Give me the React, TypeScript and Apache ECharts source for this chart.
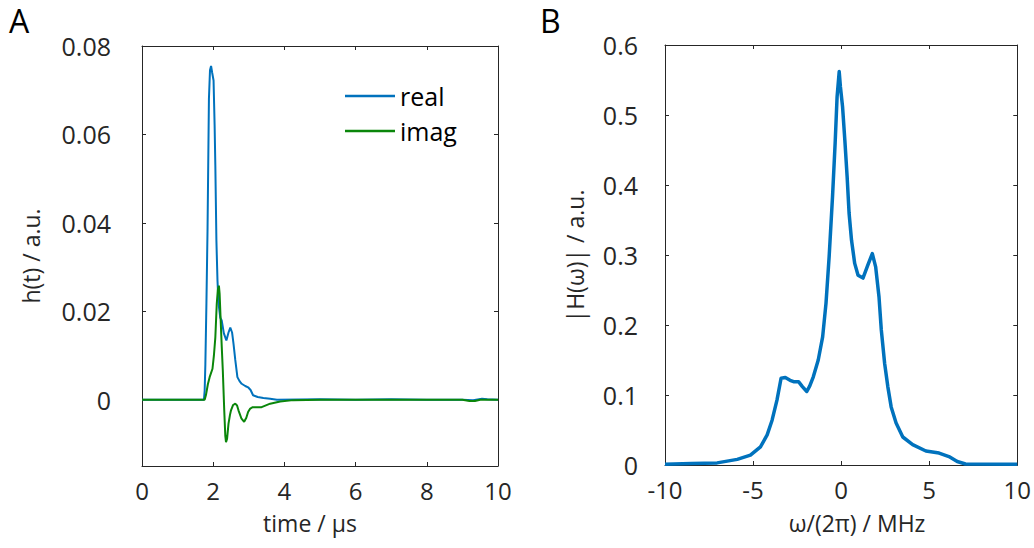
import React, { useEffect, useRef } from "react";
import * as echarts from "echarts";

// Panel A: impulse response
const timeUs = [0, 1, 1.74, 1.76, 1.78, 1.81, 1.84, 1.88, 1.91, 1.94, 1.97, 2.01, 2.04, 2.06, 2.09, 2.12, 2.15, 2.2, 2.24, 2.3, 2.37, 2.43, 2.48, 2.53, 2.57, 2.62, 2.68, 2.74, 2.8, 2.9, 2.98, 3.05, 3.12, 3.25, 3.41, 3.6, 3.79, 5, 6, 7, 8, 9, 9.3, 9.55, 9.7, 10];
const realPart = [0, 0, 0, 0.002, 0.008, 0.022, 0.038, 0.068, 0.0745, 0.0755, 0.074, 0.0722, 0.062, 0.053, 0.036, 0.027, 0.0217, 0.0185, 0.0179, 0.015, 0.0134, 0.0152, 0.0163, 0.0152, 0.0127, 0.009, 0.0051, 0.0042, 0.0036, 0.0031, 0.0028, 0.0022, 0.001, 0.0006, 0.0004, 0.0002, 0, 0.0001, 0, 0.0001, 0, 0, -0.0001, 0.0002, 0.0001, 0];

const timeImagUs = [0, 1, 1.76, 1.8, 1.85, 1.9, 1.98, 2.02, 2.06, 2.1, 2.13, 2.16, 2.18, 2.21, 2.24, 2.27, 2.31, 2.34, 2.36, 2.39, 2.43, 2.47, 2.5, 2.56, 2.62, 2.67, 2.71, 2.79, 2.87, 2.93, 2.98, 3.04, 3.11, 3.36, 3.48, 3.6, 3.88, 4.25, 5, 7, 9, 9.2, 9.35, 9.5, 10];
const imagPart = [0, 0, 0, 0.0012, 0.0035, 0.0051, 0.007, 0.01, 0.0141, 0.0217, 0.0248, 0.0258, 0.024, 0.0179, 0.012, 0.0066, -0.0024, -0.0082, -0.0096, -0.0088, -0.0054, -0.0035, -0.0024, -0.0012, -0.0009, -0.0013, -0.0024, -0.0042, -0.005, -0.0041, -0.0028, -0.002, -0.0017, -0.0017, -0.0013, -0.0009, -0.0004, -0.0001, 0, 0, 0, -0.0003, -0.0003, 0, 0];

const hTicks = [0, 0.02, 0.04, 0.06, 0.08];

// Panel B: spectrum magnitude
const freqMHz = [-10, -8.5, -7.04, -5.9, -5.15, -4.58, -4.2, -3.92, -3.64, -3.41, -3.17, -2.9, -2.7, -2.42, -2.2, -1.95, -1.78, -1.58, -1.3, -1.05, -0.86, -0.68, -0.49, -0.34, -0.23, -0.11, -0.04, 0.08, 0.21, 0.34, 0.45, 0.59, 0.77, 0.96, 1.24, 1.52, 1.77, 1.96, 2.15, 2.28, 2.47, 2.65, 2.84, 3.12, 3.5, 4.06, 4.81, 5.56, 6.12, 6.59, 7.06, 10];
const spectrumMag = [0.001, 0.002, 0.003, 0.008, 0.014, 0.026, 0.043, 0.064, 0.093, 0.124, 0.125, 0.121, 0.119, 0.119, 0.112, 0.105, 0.113, 0.126, 0.15, 0.183, 0.231, 0.298, 0.383, 0.46, 0.526, 0.562, 0.54, 0.512, 0.464, 0.412, 0.36, 0.321, 0.288, 0.271, 0.267, 0.286, 0.302, 0.283, 0.24, 0.193, 0.145, 0.112, 0.083, 0.06, 0.04, 0.029, 0.02, 0.017, 0.012, 0.005, 0.0015, 0.001];

const AX = "#262626";
const FONT = "'Open Sans', 'Noto Sans', sans-serif";
const FS = 24;

function frameAxes(gridIndex: number, xmin: number, xmax: number, xint: number, ymin: number, ymax: number, yint: number | null, yCustom: number[] | null, yMargin: number) {
  const line = { show: true, onZero: false, lineStyle: { color: AX, width: 1 } };
  const tick = { show: true, inside: true, length: 4, lineStyle: { color: AX, width: 1 } };
  const xs = [
    {
      type: "value", gridIndex, position: "bottom", min: xmin, max: xmax, interval: xint,
      axisLine: line, axisTick: tick, splitLine: { show: false },
      axisLabel: { color: AX, fontSize: FS, fontFamily: FONT, margin: 14, lineHeight: 20 },
    },
    {
      type: "value", gridIndex, position: "top", min: xmin, max: xmax, interval: xint,
      axisLine: line, axisTick: tick, splitLine: { show: false }, axisLabel: { show: false },
    },
  ];
  const yBase: any = { type: "value", gridIndex, min: ymin, max: ymax, axisLine: line, splitLine: { show: false } };
  if (yint !== null) yBase.interval = yint;
  const yTick: any = { ...tick };
  const yLabel: any = {
    color: AX, fontSize: 25, fontFamily: FONT, margin: yMargin, lineHeight: 24,
    padding: [12, 0, 0, 0],
    formatter: (v: number) => (Math.abs(v) < 1e-9 ? "0" : String(parseFloat(v.toFixed(3)))),
  };
  if (yCustom) {
    yTick.customValues = yCustom;
    yLabel.customValues = yCustom;
  }
  const ys = [
    { ...yBase, position: "left", axisTick: yTick, axisLabel: yLabel },
    { ...yBase, position: "right", axisTick: yTick, axisLabel: { show: false } },
  ];
  return { xs, ys };
}

export default function App() {
  const ref = useRef<HTMLDivElement>(null);
  useEffect(() => {
    if (!ref.current) return;
    const chart = echarts.init(ref.current, undefined, { renderer: "svg" });
    const a = frameAxes(0, 0, 10, 2, -0.015, 0.08, null, hTicks, 31);
    const b = frameAxes(1, -10, 10, 5, 0, 0.6, 0.1, null, 27);
    const nameStyle = { fontSize: 23, fontFamily: FONT, fill: AX, align: "center", verticalAlign: "middle", lineHeight: 20 };
    const option: any = {
      animation: false,
      backgroundColor: "#ffffff",
      textStyle: { fontFamily: FONT },
      grid: [
        { left: 142, top: 46, width: 356, height: 420 },
        { left: 665, top: 45, width: 354, height: 420 },
      ],
      xAxis: [...a.xs, ...b.xs],
      yAxis: [...a.ys, ...b.ys],
      legend: {
        orient: "vertical",
        left: 340,
        top: 78,
        icon: "rect",
        itemWidth: 50,
        itemHeight: 2.5,
        itemGap: 9,
        data: ["real", "imag"],
        textStyle: { color: "#000", fontSize: 25, fontFamily: FONT, lineHeight: 26 },
      },
      series: [
        {
          name: "real", type: "line", xAxisIndex: 0, yAxisIndex: 0, symbol: "none",
          data: timeUs.map((t, i) => [t, realPart[i]]),
          lineStyle: { color: "#0072BD", width: 2 }, itemStyle: { color: "#0072BD" },
        },
        {
          name: "imag", type: "line", xAxisIndex: 0, yAxisIndex: 0, symbol: "none",
          data: timeImagUs.map((t, i) => [t, imagPart[i]]),
          lineStyle: { color: "#0a860a", width: 2 }, itemStyle: { color: "#0a860a" },
        },
        {
          name: "|H(ω)|", type: "line", xAxisIndex: 2, yAxisIndex: 2, symbol: "none",
          data: freqMHz.map((f, i) => [f, spectrumMag[i]]),
          lineStyle: { color: "#0072BD", width: 3.5, join: "round" }, itemStyle: { color: "#0072BD" },
        },
      ],
      graphic: [
        { type: "text", left: 9, top: 4, style: { text: "A", fontSize: 32, fontFamily: FONT, fill: "#000" } },
        { type: "text", left: 540, top: 4, style: { text: "B", fontSize: 32, fontFamily: FONT, fill: "#000" } },
        { type: "text", x: 310, y: 523, style: { text: "time / µs", ...nameStyle } },
        { type: "text", x: 857, y: 523, style: { text: "ω/(2π) / MHz", ...nameStyle } },
        { type: "text", x: 31, y: 256, rotation: Math.PI / 2, style: { text: "h(t) / a.u.", ...nameStyle } },
        { type: "text", x: 575, y: 256, rotation: Math.PI / 2, style: { text: "|H(ω)| / a.u.", ...nameStyle } },
      ],
    };
    chart.setOption(option);
    return () => chart.dispose();
  }, []);
  return <div ref={ref} style={{ position: "absolute", left: 0, top: 0, width: 1034, height: 548 }} />;
}
